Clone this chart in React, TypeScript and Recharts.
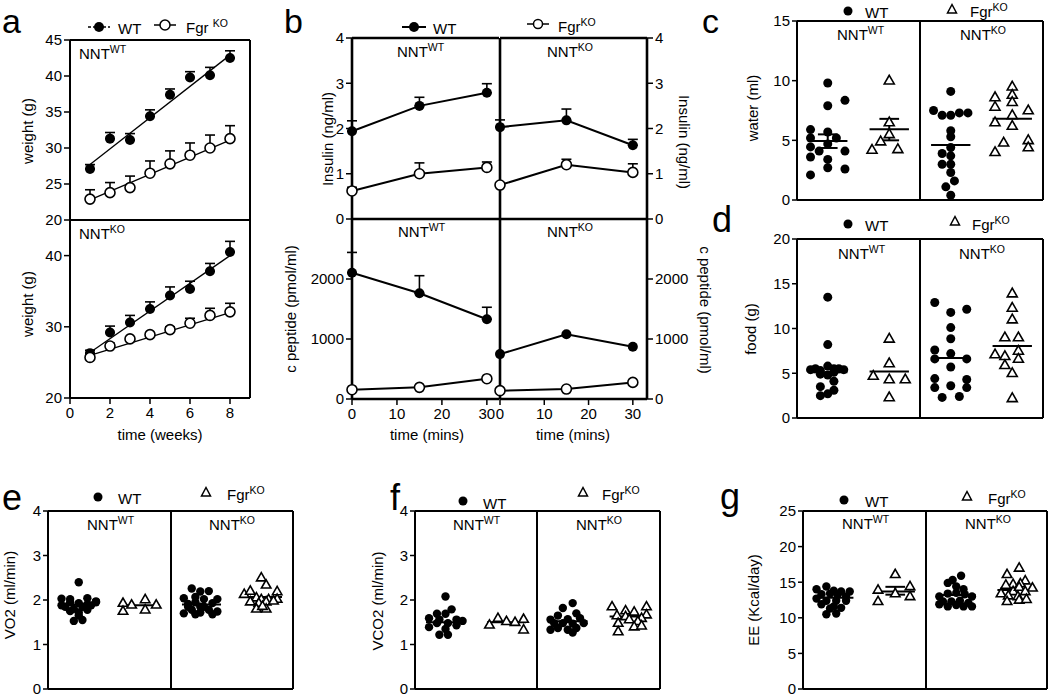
import React from "react";
import { ComposedChart, Line, Scatter, XAxis, YAxis, ReferenceLine, ErrorBar } from "recharts";

const FONT = '"Liberation Sans", Arial, Helvetica, sans-serif';

// ---- a: body weight (g) per week ----
const weeks = [1, 2, 3, 4, 5, 6, 7, 8];
const wWtNntWt = [27.1, 31.3, 31.1, 34.4, 37.4, 39.8, 40.1, 42.5];
const wWtNntWtErr = [0.6, 0.85, 0.9, 0.9, 0.8, 0.8, 1.1, 1.0];
const wKoNntWt = [22.9, 23.8, 24.5, 26.5, 27.8, 29.0, 30.0, 31.3];
const wKoNntWtErr = [1.3, 1.4, 1.6, 1.7, 1.8, 1.7, 1.8, 1.8];
const wWtNntKo = [26.3, 29.2, 30.6, 32.5, 34.4, 35.3, 37.8, 40.5];
const wWtNntKoErr = [0.4, 0.9, 1.0, 1.0, 1.2, 1.1, 1.1, 1.5];
const wKoNntKo = [25.7, 27.3, 28.3, 28.9, 29.6, 30.5, 31.6, 32.1];
const wKoNntKoErr = [0.5, 0.4, 0.3, 0.3, 0.4, 0.7, 1.0, 1.2];
// regression lines, end points
const fitWeeks = [1, 8];
const fitWtNntWt = [27.7, 42.9];
const fitKoNntWt = [22.8, 31.1];
const fitWtNntKo = [26.4, 40.0];
const fitKoNntKo = [26.0, 32.0];

// ---- b: insulin (ng/ml) and c peptide (pmol/ml) ----
const mins = [0, 15, 30];
const insWtNntWt = [1.94, 2.5, 2.79];
const insWtNntWtErr = [0.23, 0.19, 0.2];
const insKoNntWt = [0.62, 1.0, 1.14];
const insKoNntWtErr = [0.08, 0.24, 0.12];
const insWtNntKo = [2.03, 2.18, 1.63];
const insWtNntKoErr = [0.16, 0.25, 0.13];
const insKoNntKo = [0.75, 1.2, 1.03];
const insKoNntKoErr = [0.04, 0.12, 0.19];
const cpWtNntWt = [2105, 1762, 1330];
const cpWtNntWtErr = [338, 293, 199];
const cpKoNntWt = [155, 194, 338];
const cpWtNntKo = [748, 1080, 870];
const cpKoNntKo = [139, 166, 277];

// ---- c: water (ml); x = position inside a genotype box (0..1) ----
type Pt = [number, number];
const waterWtNntWt: Pt[] = [[0.25, 9.8], [0.39, 8.35], [0.25, 7.9], [0.11, 5.9], [0.25, 5.7], [0.11, 5.2], [0.32, 5.2], [0.25, 4.7], [0.11, 4.45], [0.18, 4.1], [0.39, 4.1], [0.11, 3.6], [0.25, 3.4], [0.25, 2.7], [0.39, 2.6], [0.11, 2.1]];
const waterKoNntWt: Pt[] = [[0.75, 10.0], [0.75, 6.5], [0.75, 5.5], [0.68, 4.9], [0.61, 4.2], [0.82, 4.25]];
const waterWtNntKo: Pt[] = [[0.25, 9.1], [0.11, 7.5], [0.18, 7.1], [0.25, 7.1], [0.32, 7.3], [0.39, 7.3], [0.25, 5.8], [0.25, 5.3], [0.25, 4.4], [0.18, 3.9], [0.25, 3.7], [0.18, 3.0], [0.25, 3.0], [0.25, 2.3], [0.28, 1.6], [0.21, 1.1], [0.25, 0.4]];
const waterKoNntKo: Pt[] = [[0.75, 9.5], [0.75, 8.8], [0.61, 8.6], [0.75, 8.2], [0.61, 7.8], [0.88, 7.5], [0.75, 7.1], [0.61, 6.5], [0.75, 6.2], [0.88, 5.0], [0.68, 4.8], [0.88, 4.4], [0.61, 4.0]];
const waterMeans = [4.94, 5.92, 4.6, 6.8];
const waterSem: ([number, number] | null)[] = [[4.36, 5.5], [5.0, 6.8], null, null];

// ---- d: food (g) ----
const foodWtNntWt: Pt[] = [[0.25, 13.5], [0.25, 8.2], [0.11, 5.4], [0.15, 5.5], [0.19, 5.3], [0.3, 5.5], [0.34, 5.5], [0.38, 5.4], [0.25, 5.8], [0.19, 4.9], [0.25, 4.8], [0.3, 5.1], [0.3, 4.1], [0.19, 3.5], [0.3, 3.1], [0.19, 2.5], [0.25, 2.7]];
const foodKoNntWt: Pt[] = [[0.75, 8.85], [0.75, 6.1], [0.62, 4.7], [0.75, 4.3], [0.88, 4.3], [0.75, 2.3]];
const foodWtNntKo: Pt[] = [[0.12, 12.9], [0.25, 11.8], [0.38, 12.15], [0.25, 10.1], [0.25, 8.85], [0.12, 7.6], [0.25, 7.2], [0.12, 6.6], [0.38, 6.6], [0.25, 5.7], [0.12, 4.4], [0.38, 4.3], [0.12, 3.4], [0.25, 3.6], [0.38, 3.4], [0.18, 2.3], [0.32, 2.4]];
const foodKoNntKo: Pt[] = [[0.75, 13.9], [0.75, 12.3], [0.75, 11.0], [0.69, 9.0], [0.8, 9.0], [0.61, 7.1], [0.8, 7.5], [0.69, 6.9], [0.8, 6.6], [0.69, 5.9], [0.75, 5.0], [0.75, 2.2]];
const foodMeans = [5.1, 5.2, 6.7, 8.05];

// ---- e: VO2 (ml/min) ----
const vo2WtNntWt: Pt[] = [[0.25, 2.4], [0.11, 2.03], [0.18, 2.02], [0.32, 2.04], [0.39, 1.97], [0.11, 1.88], [0.18, 1.95], [0.25, 1.93], [0.32, 1.9], [0.39, 1.95], [0.14, 1.85], [0.21, 1.8], [0.28, 1.85], [0.35, 1.88], [0.18, 1.75], [0.25, 1.72], [0.32, 1.78], [0.21, 1.53], [0.28, 1.55], [0.25, 1.65]];
const vo2KoNntWt: Pt[] = [[0.61, 1.93], [0.61, 1.75], [0.68, 1.89], [0.79, 2.01], [0.79, 1.78], [0.88, 1.89]];
const vo2WtNntKo: Pt[] = [[0.17, 2.26], [0.24, 2.19], [0.31, 2.2], [0.105, 2.04], [0.2, 2.07], [0.27, 2.02], [0.38, 2.02], [0.14, 1.91], [0.2, 1.95], [0.34, 1.93], [0.105, 1.7], [0.17, 1.78], [0.24, 1.72], [0.31, 1.78], [0.38, 1.74], [0.14, 1.85], [0.27, 1.85], [0.2, 1.68], [0.34, 1.68], [0.24, 1.85]];
const vo2KoNntKo: Pt[] = [[0.74, 2.5], [0.78, 2.34], [0.6, 2.13], [0.65, 2.2], [0.87, 2.19], [0.7, 2.05], [0.74, 2.01], [0.8, 2.01], [0.87, 2.02], [0.65, 1.96], [0.72, 1.93], [0.78, 1.96], [0.84, 1.98], [0.7, 1.8], [0.78, 1.8], [0.75, 1.86]];
const vo2Means = [1.9, 1.88, 1.9, 2.07];

// ---- f: VCO2 (ml/min) ----
const vco2WtNntWt: Pt[] = [[0.25, 2.08], [0.3, 1.79], [0.25, 1.69], [0.18, 1.69], [0.115, 1.59], [0.2, 1.56], [0.34, 1.56], [0.39, 1.53], [0.115, 1.39], [0.18, 1.48], [0.27, 1.48], [0.34, 1.43], [0.25, 1.35], [0.2, 1.22], [0.27, 1.22]];
const vco2KoNntWt: Pt[] = [[0.61, 1.44], [0.68, 1.59], [0.75, 1.52], [0.82, 1.5], [0.89, 1.57], [0.89, 1.33]];
const vco2WtNntKo: Pt[] = [[0.29, 1.93], [0.21, 1.82], [0.32, 1.7], [0.17, 1.65], [0.11, 1.56], [0.25, 1.57], [0.35, 1.59], [0.14, 1.48], [0.21, 1.48], [0.29, 1.47], [0.38, 1.48], [0.11, 1.33], [0.17, 1.37], [0.25, 1.33], [0.32, 1.37], [0.29, 1.27]];
const vco2KoNntKo: Pt[] = [[0.61, 1.85], [0.89, 1.85], [0.72, 1.76], [0.79, 1.73], [0.89, 1.67], [0.65, 1.65], [0.72, 1.63], [0.85, 1.59], [0.75, 1.56], [0.66, 1.48], [0.82, 1.52], [0.66, 1.29], [0.79, 1.4], [0.85, 1.42]];
const vco2Means = [1.5, 1.5, 1.52, 1.63];

// ---- g: EE (Kcal/day) ----
const eeWtNntWt: Pt[] = [[0.19, 14.4], [0.11, 14.0], [0.25, 13.8], [0.31, 13.7], [0.38, 13.7], [0.15, 13.3], [0.22, 13.4], [0.28, 13.2], [0.35, 13.0], [0.11, 12.7], [0.19, 12.4], [0.27, 12.4], [0.35, 12.4], [0.15, 11.9], [0.25, 11.6], [0.31, 11.4], [0.19, 10.5], [0.27, 10.6], [0.22, 11.3]];
const eeKoNntWt: Pt[] = [[0.75, 16.1], [0.61, 13.9], [0.87, 14.4], [0.75, 13.4], [0.87, 13.0], [0.61, 12.3]];
const eeWtNntKo: Pt[] = [[0.29, 15.9], [0.22, 15.3], [0.18, 14.9], [0.25, 14.4], [0.31, 14.0], [0.11, 13.0], [0.18, 13.4], [0.25, 13.5], [0.32, 13.3], [0.38, 13.0], [0.14, 12.3], [0.21, 12.3], [0.28, 12.4], [0.35, 12.1], [0.11, 11.9], [0.18, 11.6], [0.31, 11.6], [0.38, 11.6], [0.25, 11.8]];
const eeKoNntKo: Pt[] = [[0.77, 17.0], [0.67, 16.1], [0.82, 15.2], [0.72, 14.7], [0.78, 14.8], [0.66, 14.6], [0.88, 14.2], [0.62, 13.4], [0.72, 13.7], [0.77, 14.3], [0.82, 13.7], [0.68, 13.1], [0.76, 13.0], [0.67, 12.3], [0.77, 12.5], [0.83, 12.6]];
const eeMeans = [12.8, 13.7, 13.2, 13.9];
const eeSem: ([number, number] | null)[] = [null, [13.25, 14.35], null, null];

// ---------- shared styling ----------
const AX = { stroke: "#000", strokeWidth: 2 };
const AXB = { stroke: "#000", strokeWidth: 2.6 };
const TL = { stroke: "#000", strokeWidth: 1.5 };
const TICK = { fill: "#000", fontSize: 15, fontFamily: FONT };

const pts = (xs: number[], ys: number[], errs?: number[]) =>
  xs.map((x, i) => ({ x, y: ys[i], err: [0, errs ? errs[i] : 0] }));

const filledDot = (r: number) => (p: any) => <circle key={`f${p.index}`} cx={p.cx} cy={p.cy} r={r} fill="#000" />;
const openDot = (r: number) => (p: any) => (
  <circle key={`o${p.index}`} cx={p.cx} cy={p.cy} r={r} fill="#fff" stroke="#000" strokeWidth={1.6} />
);
const triShape = (s: number) => (p: any) => {
  const h = s * 0.87;
  return (
    <polygon
      points={`${p.cx},${p.cy - h * 0.62} ${p.cx - s / 2},${p.cy + h * 0.38} ${p.cx + s / 2},${p.cy + h * 0.38}`}
      fill="#fff" stroke="#000" strokeWidth={1.6}
    />
  );
};
const circShape = (r: number) => (p: any) => <circle cx={p.cx} cy={p.cy} r={r} fill="#000" />;

function T({ x, y, size = 15, rot = 0, anchor = "middle", children }: any) {
  const tx = anchor === "middle" ? "-50%" : anchor === "start" ? "0%" : "-100%";
  return (
    <div
      style={{
        position: "absolute", left: x, top: y, transform: `translate(${tx},-50%) rotate(${rot}deg)`,
        fontSize: size, fontFamily: FONT, whiteSpace: "nowrap", lineHeight: 1, color: "#000",
      }}
    >
      {children}
    </div>
  );
}
const Sup = ({ children }: any) => (
  <span style={{ fontSize: 10.5, position: "relative", top: -6 }}>{children}</span>
);
const Nnt = ({ x, y, s }: any) => (
  <T x={x} y={y} anchor="start">
    NNT<Sup>{s}</Sup>
  </T>
);

type TS = { data: { x: number; y: number; err: number[] }[]; open: boolean; joined: boolean; bars: boolean };

function TimeSub(p: {
  x: number; y: number; w: number; h: number; xMax: number; xTicks: number[]; xLabels: boolean;
  yMin?: number; yMax: number; yTicks: number[]; left: "labels" | "plain"; right: "labels" | "border" | "none";
  top: boolean; series: TS[]; fits?: { x: number; y: number }[][]; axis: any; dotR: number; capW: number;
}) {
  const YWL = p.left === "labels" ? 48 : 10;
  const YWR = p.right === "labels" ? 48 : 6;
  const TOP = 10;
  const XH = p.xLabels ? 34 : 8;
  const yMin = p.yMin ?? 0;
  return (
    <div style={{ position: "absolute", left: p.x - YWL, top: p.y - TOP }}>
      <ComposedChart
        width={YWL + p.w + YWR}
        height={TOP + p.h + XH}
        margin={{ top: TOP, right: p.right === "labels" ? 0 : YWR, bottom: 0, left: 0 }}
      >
        <XAxis type="number" dataKey="x" domain={[0, p.xMax]} ticks={p.xTicks} interval={0}
          tick={p.xLabels ? TICK : false} tickSize={6} tickMargin={3} height={XH} axisLine={p.axis} tickLine={TL} />
        <YAxis yAxisId="l" type="number" domain={[yMin, p.yMax]} ticks={p.yTicks} interval={0} width={YWL}
          tick={p.left === "labels" ? TICK : false} tickSize={6} tickMargin={2} axisLine={p.axis}
          tickLine={p.left === "labels" ? TL : false} />
        {p.right === "labels" && (
          <YAxis yAxisId="r" orientation="right" type="number" domain={[yMin, p.yMax]} ticks={p.yTicks} interval={0}
            width={YWR} tick={TICK} tickSize={6} tickMargin={2} axisLine={p.axis} tickLine={TL} />
        )}
        {p.right === "labels" && (
          <Line yAxisId="r" data={p.series[0].data} dataKey="y" stroke="none" dot={false} activeDot={false}
            isAnimationActive={false} />
        )}
        {p.top && <ReferenceLine yAxisId="l" y={p.yMax} stroke="#000" strokeWidth={p.axis.strokeWidth} ifOverflow="visible" />}
        {p.right === "border" && (
          <ReferenceLine yAxisId="l" x={p.xMax} stroke="#000" strokeWidth={p.axis.strokeWidth} ifOverflow="visible" />
        )}
        {(p.fits || []).map((f, i) => (
          <Line key={`fit${i}`} yAxisId="l" data={f} dataKey="y" type="linear" stroke="#000" strokeWidth={1.3}
            dot={false} activeDot={false} isAnimationActive={false} />
        ))}
        {p.series.map((s, i) => (
          <Line key={`s${i}`} yAxisId="l" data={s.data} dataKey="y" type="linear"
            stroke={s.joined ? "#000" : "none"} strokeWidth={2}
            dot={s.open ? openDot(p.dotR) : filledDot(p.dotR)} activeDot={false} isAnimationActive={false}>
            {s.bars && <ErrorBar dataKey="err" width={p.capW} strokeWidth={1.6} stroke="#000" direction="y" />}
          </Line>
        ))}
      </ComposedChart>
    </div>
  );
}

type Group = { pts: Pt[]; tri: boolean; cx: number; mean: number; sem: [number, number] | null };

function DotSub(p: {
  x: number; y: number; w: number; h: number; yMax: number; yTicks: number[]; labels: boolean;
  last: boolean; groups: Group[]; r: number; s: number;
}) {
  const YW = p.labels ? 40 : 10;
  const TOP = 12, R = 4, XH = 10;
  return (
    <div style={{ position: "absolute", left: p.x - YW, top: p.y - TOP }}>
      <ComposedChart width={YW + p.w + R} height={TOP + p.h + XH} margin={{ top: TOP, right: R, bottom: 0, left: 0 }}>
        <XAxis type="number" dataKey="x" domain={[0, 1]} ticks={[0.25, 0.75]} interval={0} tick={false}
          tickSize={6} height={XH} axisLine={AX} tickLine={TL} />
        <YAxis type="number" domain={[0, p.yMax]} ticks={p.yTicks} interval={0} width={YW}
          tick={p.labels ? TICK : false} tickSize={5} tickMargin={2} axisLine={AX} tickLine={TL} />
        <ReferenceLine y={p.yMax} stroke="#000" strokeWidth={2} ifOverflow="visible" />
        {p.last && <ReferenceLine x={1} stroke="#000" strokeWidth={2} ifOverflow="visible" />}
        {p.groups.map((g, i) => (
          <Scatter key={`p${i}`} data={g.pts.map(([px, py]) => ({ x: px, y: py }))} dataKey="y"
            shape={g.tri ? triShape(p.s) : circShape(p.r)} isAnimationActive={false} />
        ))}
        {p.groups.map((g, i) => (
          <ReferenceLine key={`m${i}`} segment={[{ x: g.cx - 0.16, y: g.mean }, { x: g.cx + 0.16, y: g.mean }]}
            stroke="#000" strokeWidth={2} ifOverflow="visible" />
        ))}
        {p.groups.flatMap((g, i) =>
          g.sem
            ? [
                <ReferenceLine key={`su${i}`} segment={[{ x: g.cx - 0.08, y: g.sem[1] }, { x: g.cx + 0.08, y: g.sem[1] }]}
                  stroke="#000" strokeWidth={2} ifOverflow="visible" />,
                <ReferenceLine key={`sl${i}`} segment={[{ x: g.cx - 0.08, y: g.sem[0] }, { x: g.cx + 0.08, y: g.sem[0] }]}
                  stroke="#000" strokeWidth={2} ifOverflow="visible" />,
                <ReferenceLine key={`sv${i}`} segment={[{ x: g.cx, y: g.sem[0] }, { x: g.cx, y: g.sem[1] }]}
                  stroke="#000" strokeWidth={2} ifOverflow="visible" />,
              ]
            : []
        )}
      </ComposedChart>
    </div>
  );
}

function DotPanel(p: {
  x0: number; xm: number; x1: number; y0: number; y1: number; yMax: number; yTicks: number[];
  sets: Pt[][]; means: number[]; sem?: ([number, number] | null)[]; r: number; s: number;
}) {
  const mk = (k: number): Group => ({
    pts: p.sets[k], tri: k % 2 === 1, cx: k % 2 === 1 ? 0.75 : 0.25, mean: p.means[k], sem: p.sem ? p.sem[k] : null,
  });
  return (
    <>
      <DotSub x={p.x0} y={p.y0} w={p.xm - p.x0} h={p.y1 - p.y0} yMax={p.yMax} yTicks={p.yTicks} labels last={false}
        groups={[mk(0), mk(1)]} r={p.r} s={p.s} />
      <DotSub x={p.xm} y={p.y0} w={p.x1 - p.xm} h={p.y1 - p.y0} yMax={p.yMax} yTicks={p.yTicks} labels={false} last
        groups={[mk(2), mk(3)]} r={p.r} s={p.s} />
    </>
  );
}

function Letter({ x, y, c, size = 36 }: any) {
  return <T x={x} y={y} size={size} anchor="start">{c}</T>;
}

function DotLegend({ dx, dy, tx, ty, wt, ft }: any) {
  return (
    <>
      <svg style={{ position: "absolute", left: 0, top: 0, overflow: "visible" }} width={1} height={1}>
        <circle cx={dx} cy={dy} r={4.5} fill="#000" />
        <polygon points={`${tx},${ty - 5.5} ${tx - 4.5},${ty + 3} ${tx + 4.5},${ty + 3}`} fill="#fff" stroke="#000" strokeWidth={1.5} />
      </svg>
      <T x={wt[0]} y={wt[1]} anchor="start">WT</T>
      <T x={ft[0]} y={ft[1]} anchor="start">Fgr<Sup>KO</Sup></T>
    </>
  );
}

export default function App() {
  const aTop: TS[] = [
    { data: pts(weeks, wWtNntWt, wWtNntWtErr), open: false, joined: false, bars: true },
    { data: pts(weeks, wKoNntWt, wKoNntWtErr), open: true, joined: false, bars: true },
  ];
  const aBot: TS[] = [
    { data: pts(weeks, wWtNntKo, wWtNntKoErr), open: false, joined: false, bars: true },
    { data: pts(weeks, wKoNntKo, wKoNntKoErr), open: true, joined: false, bars: true },
  ];
  const fitsTop = [pts(fitWeeks, fitWtNntWt), pts(fitWeeks, fitKoNntWt)];
  const fitsBot = [pts(fitWeeks, fitWtNntKo), pts(fitWeeks, fitKoNntKo)];
  const insL: TS[] = [
    { data: pts(mins, insWtNntWt, insWtNntWtErr), open: false, joined: true, bars: true },
    { data: pts(mins, insKoNntWt, insKoNntWtErr), open: true, joined: true, bars: true },
  ];
  const insR: TS[] = [
    { data: pts(mins, insWtNntKo, insWtNntKoErr), open: false, joined: true, bars: true },
    { data: pts(mins, insKoNntKo, insKoNntKoErr), open: true, joined: true, bars: true },
  ];
  const cpL: TS[] = [
    { data: pts(mins, cpWtNntWt, cpWtNntWtErr), open: false, joined: true, bars: true },
    { data: pts(mins, cpKoNntWt), open: true, joined: true, bars: false },
  ];
  const cpR: TS[] = [
    { data: pts(mins, cpWtNntKo), open: false, joined: true, bars: false },
    { data: pts(mins, cpKoNntKo), open: true, joined: true, bars: false },
  ];

  return (
    <div style={{ position: "absolute", left: 0, top: 0, width: 1050, height: 697, background: "#fff", overflow: "hidden" }}>
      {/* ---------- a ---------- */}
      <TimeSub x={70} y={40} w={180} h={180} xMax={9} xTicks={[0, 2, 4, 6, 8]} xLabels={false}
        yMin={20} yMax={45} yTicks={[20, 25, 30, 35, 40, 45]} left="labels" right="border" top
        series={aTop} fits={fitsTop} axis={AX} dotR={5} capW={5} />
      <TimeSub x={70} y={220} w={180} h={178} xMax={9} xTicks={[0, 2, 4, 6, 8]} xLabels
        yMin={20} yMax={45} yTicks={[20, 30, 40]} left="labels" right="border" top={false}
        series={aBot} fits={fitsBot} axis={AX} dotR={5} capW={5} />

      {/* ---------- b ---------- */}
      <TimeSub x={352} y={38} w={147} h={181} xMax={32.7} xTicks={[0, 10, 20, 30]} xLabels={false}
        yMax={4} yTicks={[0, 1, 2, 3, 4]} left="labels" right="none" top series={insL} axis={AXB} dotR={5} capW={5} />
      <TimeSub x={500} y={38} w={147} h={181} xMax={33.2} xTicks={[0, 10, 20, 30]} xLabels={false}
        yMax={4} yTicks={[0, 1, 2, 3, 4]} left="plain" right="labels" top series={insR} axis={AXB} dotR={5} capW={5} />
      <TimeSub x={352} y={219} w={147} h={180} xMax={32.7} xTicks={[0, 10, 20, 30]} xLabels
        yMax={3000} yTicks={[0, 1000, 2000]} left="labels" right="none" top={false} series={cpL} axis={AXB} dotR={5} capW={5} />
      <TimeSub x={500} y={219} w={147} h={180} xMax={33.2} xTicks={[0, 10, 20, 30]} xLabels
        yMax={3000} yTicks={[0, 1000, 2000]} left="plain" right="labels" top={false} series={cpR} axis={AXB} dotR={5} capW={5} />

      {/* ---------- c - g ---------- */}
      <DotPanel x0={797} xm={920} x1={1043} y0={21} y1={200} yMax={15} yTicks={[0, 5, 10, 15]}
        sets={[waterWtNntWt, waterKoNntWt, waterWtNntKo, waterKoNntKo]} means={waterMeans} sem={waterSem} r={4.5} s={10} />
      <DotPanel x0={797} xm={920} x1={1043} y0={239} y1={418} yMax={20} yTicks={[0, 5, 10, 15, 20]}
        sets={[foodWtNntWt, foodKoNntWt, foodWtNntKo, foodKoNntKo]} means={foodMeans} r={4.5} s={10} />
      <DotPanel x0={48} xm={171} x1={293} y0={511} y1={689} yMax={4} yTicks={[0, 1, 2, 3, 4]}
        sets={[vo2WtNntWt, vo2KoNntWt, vo2WtNntKo, vo2KoNntKo]} means={vo2Means} r={4.2} s={9.5} />
      <DotPanel x0={415} xm={537} x1={660} y0={511} y1={689} yMax={4} yTicks={[0, 1, 2, 3, 4]}
        sets={[vco2WtNntWt, vco2KoNntWt, vco2WtNntKo, vco2KoNntKo]} means={vco2Means} r={4.2} s={9.5} />
      <DotPanel x0={803} xm={926} x1={1047} y0={511} y1={689} yMax={25} yTicks={[0, 5, 10, 15, 20, 25]}
        sets={[eeWtNntWt, eeKoNntWt, eeWtNntKo, eeKoNntKo]} means={eeMeans} sem={eeSem} r={4.2} s={9.5} />

      {/* ---------- legends for a and b ---------- */}
      <svg style={{ position: "absolute", left: 0, top: 0 }} width={1050} height={697}>
        <line x1={88} x2={110} y1={27} y2={27} stroke="#000" strokeWidth={1.5} strokeDasharray="3 2" />
        <circle cx={99} cy={27} r={5} fill="#000" />
        <line x1={154} x2={176} y1={25} y2={25} stroke="#000" strokeWidth={1.5} />
        <circle cx={165} cy={25} r={5} fill="#fff" stroke="#000" strokeWidth={1.5} />
        <line x1={402} x2={426} y1={27} y2={27} stroke="#000" strokeWidth={2} />
        <circle cx={414} cy={27} r={5} fill="#000" />
        <line x1={527} x2={549} y1={24} y2={24} stroke="#000" strokeWidth={1.5} />
        <circle cx={538} cy={24} r={4.5} fill="#fff" stroke="#000" strokeWidth={1.5} />
      </svg>
      <T x={118} y={28} anchor="start">WT</T>
      <T x={186} y={27} anchor="start">Fgr <Sup>KO</Sup></T>
      <T x={433} y={28} anchor="start">WT</T>
      <T x={558} y={26} anchor="start">Fgr<Sup>KO</Sup></T>

      <DotLegend dx={848} dy={11} tx={952} ty={10} wt={[865, 12]} ft={[970, 11]} />
      <DotLegend dx={848} dy={224} tx={955} ty={222} wt={[865, 225]} ft={[972, 224]} />
      <DotLegend dx={98} dy={497} tx={206} ty={493} wt={[118, 498]} ft={[227, 494]} />
      <DotLegend dx={463} dy={501} tx={583} ty={493} wt={[483, 503]} ft={[602, 494]} />
      <DotLegend dx={844} dy={500} tx={967} ty={497} wt={[865, 501]} ft={[988, 498]} />

      {/* ---------- axis titles ---------- */}
      <T x={27} y={131} rot={-90}>weight (g)</T>
      <T x={27} y={304} rot={-90}>weight (g)</T>
      <T x={160} y={434}>time (weeks)</T>
      <T x={327} y={139} rot={-90}>Insulin (ng/ml)</T>
      <T x={684} y={142} rot={90}>Insulin (ng/ml)</T>
      <T x={290} y={309} rot={-90}>c peptide (pmol/ml)</T>
      <T x={705} y={310} rot={90}>c peptide (pmol/ml)</T>
      <T x={427} y={434}>time (mins)</T>
      <T x={573} y={434}>time (mins)</T>
      <T x={752} y={108} rot={-90}>water (ml)</T>
      <T x={750} y={329} rot={-90}>food (g)</T>
      <T x={9} y={595} rot={-90}>VO2 (ml/min)</T>
      <T x={377} y={601} rot={-90}>VCO2 (ml/min)</T>
      <T x={753} y={600} rot={-90}>EE (Kcal/day)</T>

      {/* ---------- NNT genotype labels ---------- */}
      <Nnt x={79} y={53} s="WT" />
      <Nnt x={79} y={233} s="KO" />
      <Nnt x={397} y={51} s="WT" />
      <Nnt x={547} y={51} s="KO" />
      <Nnt x={398} y={231} s="WT" />
      <Nnt x={547} y={231} s="KO" />
      <Nnt x={837} y={34} s="WT" />
      <Nnt x={960} y={34} s="KO" />
      <Nnt x={838} y={253} s="WT" />
      <Nnt x={959} y={253} s="KO" />
      <Nnt x={87} y={524} s="WT" />
      <Nnt x={209} y={524} s="KO" />
      <Nnt x={453} y={524} s="WT" />
      <Nnt x={576} y={524} s="KO" />
      <Nnt x={842} y={523} s="WT" />
      <Nnt x={965} y={523} s="KO" />

      {/* ---------- panel letters ---------- */}
      <Letter x={2} y={21} size={34} c="a" />
      <Letter x={284} y={21} size={34} c="b" />
      <Letter x={702} y={21} size={34} c="c" />
      <Letter x={712} y={220} c="d" />
      <Letter x={2} y={498} c="e" />
      <Letter x={390} y={498} c="f" />
      <Letter x={720} y={497} c="g" />
    </div>
  );
}
